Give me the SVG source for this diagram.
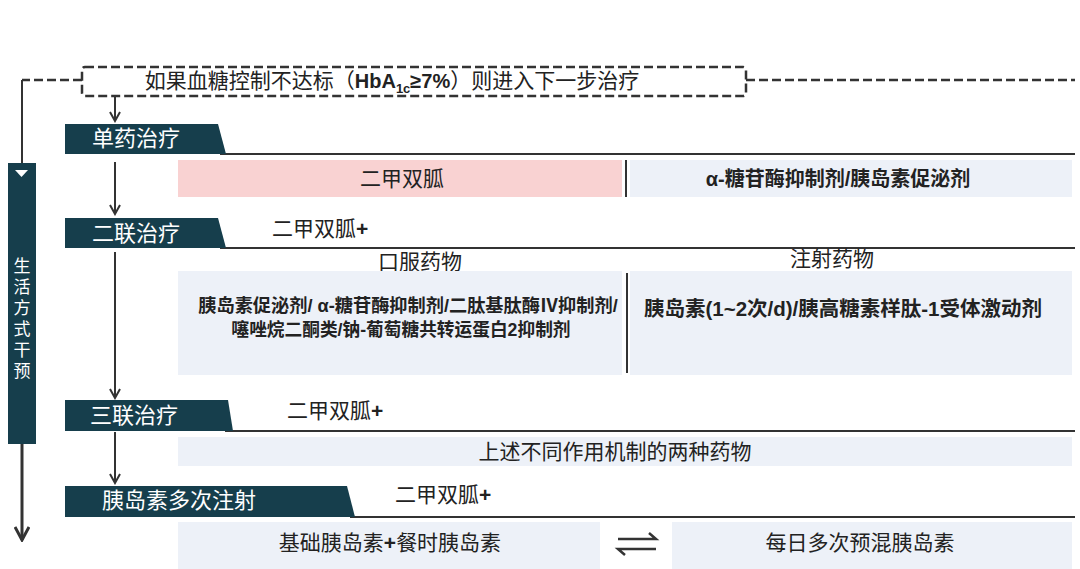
<svg xmlns="http://www.w3.org/2000/svg" width="1080" height="569" viewBox="0 0 1080 569">
<defs>
<style>
.band{fill:#163e4c}
.bt{fill:#ffffff;font-family:"Noto Sans CJK SC",sans-serif;font-size:22px}
.t{fill:#222;font-family:"Noto Sans CJK SC",sans-serif;font-size:21px}
.tb{fill:#222;font-family:"Liberation Sans","Noto Sans CJK SC",sans-serif;font-size:20px;font-weight:bold}
.box{fill:#edf1f8}
.ln{stroke:#333;stroke-width:2;fill:none}
.dash{stroke:#333;stroke-width:2.5;fill:none;stroke-dasharray:9 4}
</style>
<marker id="ah" viewBox="0 0 12 12" refX="10" refY="6" markerWidth="12" markerHeight="12" markerUnits="userSpaceOnUse" orient="auto">
<path d="M1,1 L10,6 L1,11" fill="none" stroke="#333" stroke-width="2"/>
</marker>
<marker id="ah2" viewBox="0 0 16 16" refX="14" refY="8" markerWidth="16" markerHeight="16" markerUnits="userSpaceOnUse" orient="auto">
<path d="M1,1 L14,8 L1,15" fill="none" stroke="#333" stroke-width="3"/>
</marker>
</defs>
<rect width="1080" height="569" fill="#ffffff"/>

<g id="connectors">
<path class="dash" d="M82,80 H22"/>
<path class="ln" d="M22,80 V163"/>
<path class="dash" d="M746,80 H1075"/>
<path class="ln" d="M115,96 V121" marker-end="url(#ah)"/>
<path class="ln" d="M115,162 V214" marker-end="url(#ah)"/>
<path class="ln" d="M115,252 V398" marker-end="url(#ah)"/>
<path class="ln" d="M115,432 V483" marker-end="url(#ah)"/>
<path class="ln" d="M22,444 V540" style="stroke-width:3" marker-end="url(#ah2)"/>
<path class="ln" d="M220,154 H1075"/>
<path class="ln" d="M220,248 H1075"/>
<path class="ln" d="M225,431 H1075"/>
<path class="ln" d="M350,517 H1075"/>
</g>

<g id="goal">
<rect class="dash" x="82" y="67" width="664" height="29" rx="3"/>
<text class="t" x="392" y="88" text-anchor="middle">如果血糖控制不达标（<tspan style="font-family:'Liberation Sans',sans-serif;font-weight:bold;font-size:20px">HbA</tspan><tspan style="font-family:'Liberation Sans',sans-serif;font-weight:bold;font-size:13px" dy="5">1c</tspan><tspan style="font-family:'Liberation Sans',sans-serif;font-weight:bold;font-size:20px" dy="-5">≥7%</tspan>）则进入下一步治疗</text>
</g>

<g id="lifestyle">
<rect class="band" x="8" y="163" width="28" height="281"/>
<path d="M15,170 H28 L21.5,177 Z" fill="#ffffff"/>
<text class="bt" x="22" y="257" style="font-size:17px;letter-spacing:4px" writing-mode="vertical-rl">生活方式干预</text>
</g>

<g id="step1">
<path class="band" d="M65,124 H218 L226,154 H65 Z"/>
<text class="bt" x="92" y="146">单药治疗</text>
<rect x="178" y="160" width="444" height="37" fill="#f9d2d2"/>
<text class="t" x="402" y="186" text-anchor="middle">二甲双胍</text>
<path class="ln" d="M626,160 V197"/>
<rect class="box" x="630" y="160" width="442" height="37"/>
<text class="tb" x="838" y="186" text-anchor="middle">α-糖苷酶抑制剂/胰岛素促泌剂</text>
</g>

<g id="step2">
<path class="band" d="M65,218 H218 L226,248 H65 Z"/>
<text class="bt" x="92" y="241">二联治疗</text>
<text class="t" x="272" y="236">二甲双胍<tspan style="font-weight:bold;font-family:'Liberation Sans',sans-serif">+</tspan></text>
<text class="t" x="420" y="269" text-anchor="middle">口服药物</text>
<text class="t" x="832" y="266" text-anchor="middle">注射药物</text>
<rect class="box" x="178" y="271" width="444" height="104"/>
<rect class="box" x="630" y="271" width="442" height="104"/>
<path class="ln" d="M627,273 V373"/>
<text class="tb" x="408" y="312" text-anchor="middle" style="font-size:18.2px">胰岛素促泌剂/ α-糖苷酶抑制剂/二肽基肽酶Ⅳ抑制剂/</text>
<text class="tb" x="401" y="336" text-anchor="middle" style="font-size:17.7px">噻唑烷二酮类/钠-葡萄糖共转运蛋白2抑制剂</text>
<text class="tb" x="843" y="316" text-anchor="middle" style="font-size:20.5px">胰岛素(1~2次/d)/胰高糖素样肽-1受体激动剂</text>
</g>

<g id="step3">
<path class="band" d="M65,400 H228 L233,431 H65 Z"/>
<text class="bt" x="90" y="423">三联治疗</text>
<text class="t" x="287" y="418">二甲双胍<tspan style="font-weight:bold;font-family:'Liberation Sans',sans-serif">+</tspan></text>
<rect class="box" x="178" y="437" width="894" height="29"/>
<text class="t" x="615" y="459" text-anchor="middle">上述不同作用机制的两种药物</text>
</g>

<g id="step4">
<path class="band" d="M65,486 H347 L355,517 H65 Z"/>
<text class="bt" x="102" y="508">胰岛素多次注射</text>
<text class="t" x="395" y="502">二甲双胍<tspan style="font-weight:bold;font-family:'Liberation Sans',sans-serif">+</tspan></text>
<rect class="box" x="178" y="522" width="422" height="47"/>
<text class="t" x="390" y="550" text-anchor="middle">基础胰岛素<tspan style="font-weight:bold;font-family:'Liberation Sans',sans-serif">+</tspan>餐时胰岛素</text>
<g fill="none" stroke="#333" stroke-width="2.5">
<path d="M618,539 H656 L649,533"/>
<path d="M656,549 H618 L625,555"/>
</g>
<rect class="box" x="672" y="522" width="400" height="47"/>
<text class="t" x="860" y="550" text-anchor="middle">每日多次预混胰岛素</text>
</g>
</svg>
